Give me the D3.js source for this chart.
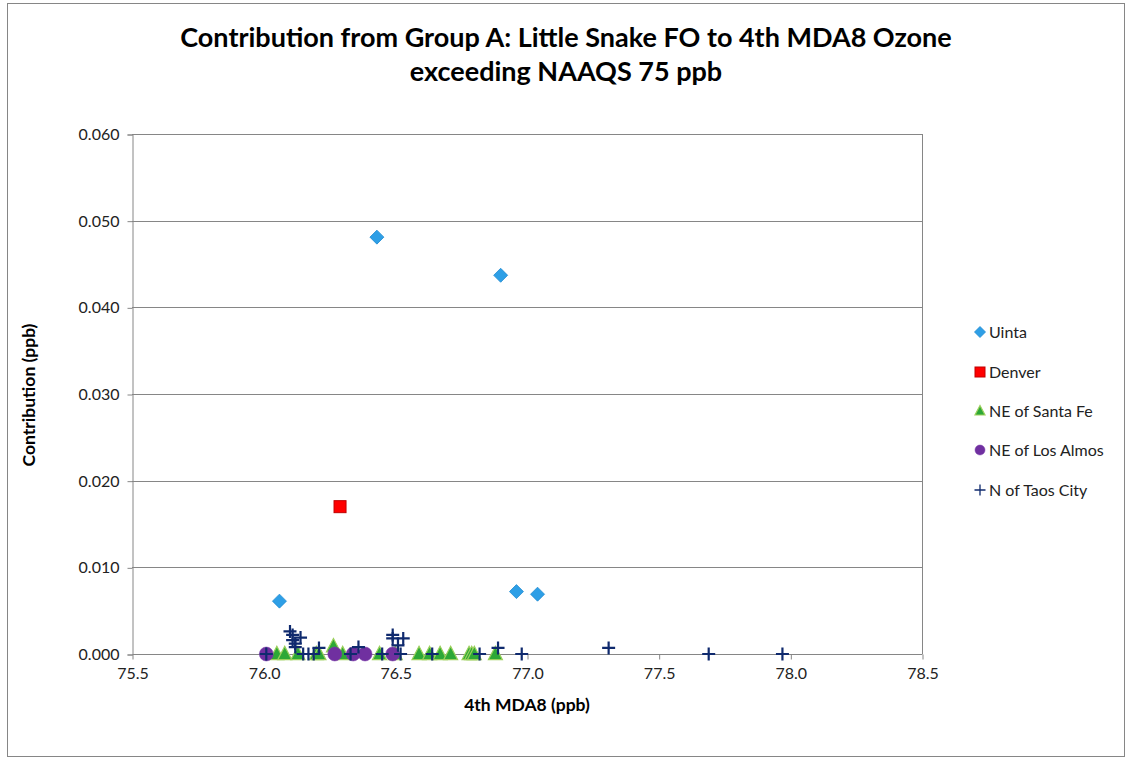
<!DOCTYPE html>
<html><head><meta charset="utf-8">
<script src="https://cdn.jsdelivr.net/npm/d3@7"></script>
<style>body{margin:0;background:#fff;} svg{display:block;font-family:Lato,"Open Sans",sans-serif;}</style>
</head><body>
<script>
const titleLines = ["Contribution from Group A: Little Snake FO to 4th MDA8 Ozone", "exceeding NAAQS 75 ppb"];
const xTicks = [75.5, 76.0, 76.5, 77.0, 77.5, 78.0, 78.5];
const yTicks = [0, 0.01, 0.02, 0.03, 0.04, 0.05, 0.06];
const seriesNames = ["Uinta", "Denver", "NE of Santa Fe", "NE of Los Almos", "N of Taos City"];
const uinta = [[76.43,0.0481],[76.90,0.0437],[76.06,0.0061],[76.96,0.0072],[77.04,0.0069]];
const denver = [[76.29,0.0170]];
const santaFe = [[76.05,0],[76.08,0],[76.13,0],[76.20,0],[76.21,0],[76.265,0.0009],[76.30,0],[76.44,0],[76.50,0],
  [76.59,0],[76.63,0],[76.67,0],[76.71,0],[76.78,0],[76.79,0],[76.80,0],[76.88,0]];
const losAlmos = [[76.01,0],[76.27,0],[76.34,0],[76.385,0],[76.49,0]];
const taos = [[76.01,0],[76.10,0.0026],[76.11,0.0022],[76.14,0.0019],[76.11,0.0016],[76.12,0.0012],[76.12,0.0008],
  [76.15,0],[76.17,0],[76.19,0],[76.21,0.0007],[76.33,0],[76.36,0.0008],[76.45,0],[76.49,0.0022],[76.49,0.0018],
  [76.53,0.0018],[76.51,0.0010],[76.52,0],[76.64,0],[76.82,0],[76.89,0.0007],[76.98,0],[77.31,0.0007],[77.69,0],[77.97,0]];

const W = 1128, H = 761;
const svg = d3.select("body").append("svg").attr("width", W).attr("height", H);
svg.append("rect").attr("x",7.5).attr("y",3.5).attr("width",1117).attr("height",753).attr("fill","#fff").attr("stroke","#868686").attr("stroke-width",1);

const L = 132, R = 922, T = 134, B = 654;
const x = d3.scaleLinear().domain([75.5, 78.5]).range([L, R]);
const y = d3.scaleLinear().domain([0, 0.06]).range([B, T]);

// title
svg.append("text").attr("x",566).attr("y",0).attr("text-anchor","middle")
  .attr("font-size",27).attr("font-weight","bold").attr("fill","#000")
  .selectAll("tspan").data(titleLines).join("tspan").attr("x",566).attr("y",(d,i)=>47+i*34).text(d=>d);

// gridlines
svg.append("g").selectAll("line").data(yTicks.slice(1)).join("line")
  .attr("x1",L).attr("x2",R).attr("y1",d=>Math.round(y(d))+0.5).attr("y2",d=>Math.round(y(d))+0.5)
  .attr("stroke","#868686").attr("stroke-width",1);
svg.append("line").attr("x1",R+0.5).attr("x2",R+0.5).attr("y1",T).attr("y2",B).attr("stroke","#868686");

// axes
const yAxis = d3.axisLeft(y).tickValues(yTicks).tickFormat(d3.format(".3f")).tickSize(5).tickPadding(8);
const gy = svg.append("g").attr("transform",`translate(${L+0.5},0.5)`).call(yAxis);
const xAxis = d3.axisBottom(x).tickValues(xTicks).tickFormat(d3.format(".1f")).tickSize(5).tickPadding(8);
const gx = svg.append("g").attr("transform",`translate(0.5,${B+0.5})`).call(xAxis);
[gx, gy].forEach(g=>{
  g.select(".domain").attr("stroke","#868686");
  g.selectAll(".tick line").attr("stroke","#868686");
  g.selectAll(".tick text").attr("font-size",16).attr("fill","#222").attr("font-family","Lato,'Open Sans',sans-serif");
});
gx.select(".domain").attr("d",`M${L},0H${R}`);

svg.append("text").attr("x",527).attr("y",711).attr("text-anchor","middle").attr("font-size",17.5).attr("font-weight","bold").text("4th MDA8 (ppb)");
svg.append("text").attr("transform","translate(35,395) rotate(-90)").attr("text-anchor","middle").attr("font-size",17.5).attr("font-weight","bold").text("Contribution (ppb)");

// markers
function drawMarker(g, type, s) {
  if (type === "diamond") g.append("path").attr("d",`M0,${-s}L${s},0L0,${s}L${-s},0Z`).attr("fill","#2E9FE6").attr("stroke","#1F8AD0").attr("stroke-width",0.8);
  else if (type === "square") g.append("rect").attr("x",-s).attr("y",-s).attr("width",2*s).attr("height",2*s).attr("fill","#FF0000").attr("stroke","#C00000").attr("stroke-width",1);
  else if (type === "triangle") g.append("path").attr("d",`M0,${-s*1.1}L${s},${s*0.8}L${-s},${s*0.8}Z`).attr("fill","#2DA836").attr("stroke","#9BD05C").attr("stroke-width",1.2);
  else if (type === "circle") g.append("circle").attr("r",s).attr("fill","#7030A0").attr("stroke","#7A3BAA").attr("stroke-width",0.5);
  else if (type === "cross") g.append("path").attr("d",`M${-s},0H${s}M0,${-s}V${s}`).attr("stroke","#0F2A6E").attr("stroke-width",2.2).attr("fill","none");
}
const series = [
  {data: uinta, type:"diamond", s:7},
  {data: denver, type:"square", s:6},
  {data: santaFe, type:"triangle", s:7},
  {data: losAlmos, type:"circle", s:7},
  {data: taos, type:"cross", s:6.5}
];
const pts = svg.append("g");
series.forEach(ser=>{
  ser.data.forEach(d=>{
    const g = pts.append("g").attr("transform",`translate(${x(d[0])},${y(d[1])})`);
    drawMarker(g, ser.type, ser.s);
  });
});

// legend
const legY = [332, 372, 411, 450, 490];
seriesNames.forEach((n,i)=>{
  const g = svg.append("g").attr("transform",`translate(980,${legY[i]})`);
  drawMarker(g, series[i].type, i===4 ? 5.5 : (i===0?5.5:5));
  if (i===4) g.select("path").attr("stroke-width",1.3);
  svg.append("text").attr("x",989).attr("y",legY[i]+6).attr("font-size",16).attr("fill","#222").text(n);
});
</script>
</body></html>
